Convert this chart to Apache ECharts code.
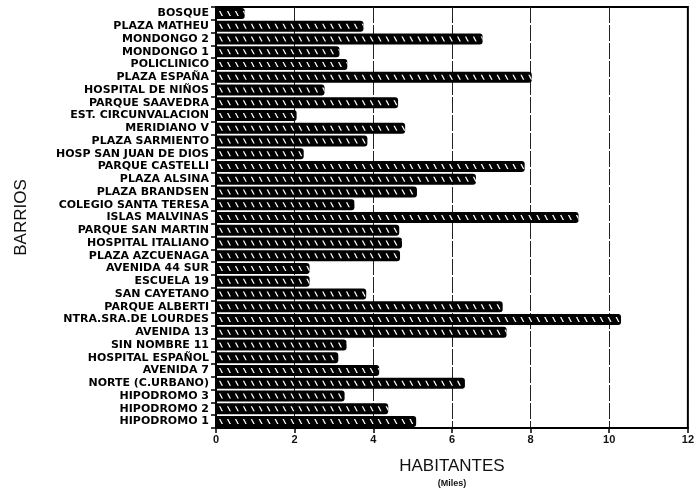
<!DOCTYPE html>
<html>
<head>
<meta charset="utf-8">
<script src="https://cdn.jsdelivr.net/npm/echarts@6/dist/echarts.min.js"></script>
<style>html,body{margin:0;padding:0;background:#fff}#c{width:697px;height:492px}</style>
</head>
<body>
<div id="c"></div>
<script>
const categories = ["BOSQUE","PLAZA MATHEU","MONDONGO 2","MONDONGO 1","POLICLINICO","PLAZA ESPAÑA","HOSPITAL DE NIÑOS","PARQUE SAAVEDRA","EST. CIRCUNVALACION","MERIDIANO V","PLAZA SARMIENTO","HOSP SAN JUAN DE DIOS","PARQUE CASTELLI","PLAZA ALSINA","PLAZA BRANDSEN","COLEGIO SANTA TERESA","ISLAS MALVINAS","PARQUE SAN MARTIN","HOSPITAL ITALIANO","PLAZA AZCUENAGA","AVENIDA 44 SUR","ESCUELA 19","SAN CAYETANO","PARQUE ALBERTI","NTRA.SRA.DE LOURDES","AVENIDA 13","SIN NOMBRE 11","HOSPITAL ESPAÑOL","AVENIDA 7","NORTE (C.URBANO)","HIPODROMO 3","HIPODROMO 2","HIPODROMO 1"];
const habitantes = [0.73,3.75,6.78,3.14,3.34,8.03,2.76,4.63,2.05,4.81,3.85,2.23,7.85,6.61,5.11,3.52,9.22,4.66,4.73,4.68,2.38,2.38,3.82,7.29,10.3,7.39,3.32,3.11,4.15,6.33,3.27,4.38,5.09];
const xTicks = [0,2,4,6,8,10,12];

const chart = echarts.init(document.getElementById('c'));
chart.setOption({
  animation: false,
  grid: {left: 216, right: 8, top: 7, bottom: 64, show: true, borderColor: '#000', borderWidth: 2, backgroundColor: 'transparent'},
  xAxis: {
    type: 'value', min: 0, max: 12, interval: 2,
    name: 'HABITANTES', nameLocation: 'middle', nameGap: 30,
    nameTextStyle: {fontFamily: 'Liberation Sans', fontSize: 17, color: '#111'},
    axisLine: {show: true, lineStyle: {color: '#000', width: 2}},
    axisTick: {show: true, length: 5, lineStyle: {color: '#000', width: 1.5}},
    axisLabel: {fontFamily: 'Liberation Sans', fontSize: 11, fontWeight: 'bold', color: '#111', margin: 6,
      formatter: v => xTicks.includes(v) ? String(v) : ''},
    splitLine: {show: true, lineStyle: {color: '#222', width: 1, type: [16,2]}}
  },
  yAxis: {
    type: 'category', data: categories, inverse: true,
    name: 'BARRIOS', nameLocation: 'middle', nameGap: 186, nameRotate: 90,
    nameTextStyle: {fontFamily: 'Liberation Sans', fontSize: 17, color: '#111'},
    axisLine: {show: true, lineStyle: {color: '#000', width: 2}},
    axisTick: {show: true, length: 5, lineStyle: {color: '#000', width: 1.5}},
    axisLabel: {fontFamily: 'DejaVu Sans', fontSize: 11, fontWeight: 'bold', color: '#000', margin: 7, interval: 0},
    splitLine: {show: false}
  },
  series: [{
    type: 'bar', data: habitantes, barWidth: 11, z: 2,
    itemStyle: {color: '#000', borderRadius: [0,3,3,0]}
  }, {
    type: 'pictorialBar', data: habitantes, barGap: '-100%', z: 3,
    symbol: 'path://M0,0L1.4,0L4,5L2.6,5Z', symbolSize: [4, 5],
    symbolRepeat: true, symbolMargin: 2, symbolClip: true, symbolOffset: [3, 0],
    itemStyle: {color: '#fff'}, silent: true
  }],
  graphic: [{
    type: 'text', x: 452, y: 479,
    style: {text: '(Miles)', align: 'center', fontFamily: 'Liberation Sans', fontSize: 9, fontWeight: 'bold', fill: '#111'}
  }]
});
</script>
</body>
</html>
